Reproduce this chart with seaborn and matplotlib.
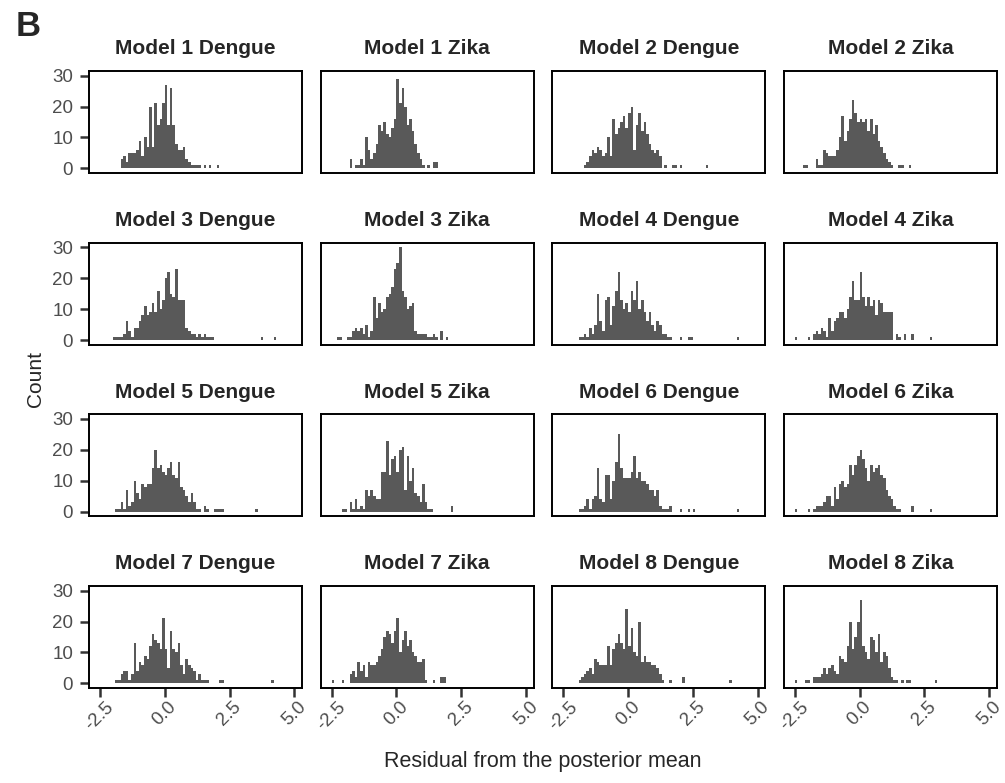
import numpy as np
import pandas as pd
import matplotlib
matplotlib.use("Agg")
import matplotlib.pyplot as plt
import seaborn as sns

# histogram bin width (residual units) and the left edge of each panel's first bin
BIN = 0.1

titles = [
    "Model 1 Dengue", "Model 1 Zika", "Model 2 Dengue", "Model 2 Zika",
    "Model 3 Dengue", "Model 3 Zika", "Model 4 Dengue", "Model 4 Zika",
    "Model 5 Dengue", "Model 5 Zika", "Model 6 Dengue", "Model 6 Zika",
    "Model 7 Dengue", "Model 7 Zika", "Model 8 Dengue", "Model 8 Zika",
]
starts = [-1.7, -1.8, -1.7, -2.2, -2.0, -2.3, -1.9, -2.5,
          -1.9, -2.1, -1.9, -2.5, -1.9, -2.5, -1.9, -2.5]

# bin counts, one list per panel
m1_dengue = [3, 4, 2, 5, 5, 5, 6, 9, 4, 10, 7, 20, 7, 21, 14, 16, 21, 27, 14, 26,
             14, 8, 6, 6, 7, 3, 2, 1, 1, 1, 1, 0, 1, 0, 1, 0, 0, 1]
m1_zika = [3, 0, 1, 1, 3, 1, 10, 6, 3, 5, 8, 14, 12, 15, 11, 10, 13, 16, 29, 21,
           26, 20, 14, 16, 12, 8, 5, 3, 1, 0, 1, 0, 2, 2]
m2_dengue = [1, 2, 4, 6, 5, 7, 6, 4, 5, 10, 4, 16, 11, 13, 15, 17, 13, 18, 20, 6,
             14, 18, 12, 15, 11, 8, 6, 5, 6, 4, 0, 1, 0, 0, 1, 1, 0, 1, 0, 0,
             0, 0, 0, 0, 0, 0, 0, 1]
m2_zika = [1, 1, 0, 0, 0, 3, 1, 1, 6, 5, 4, 4, 4, 6, 10, 17, 9, 12, 16, 22,
           18, 15, 16, 15, 16, 12, 16, 11, 14, 9, 7, 5, 3, 2, 1, 0, 0, 1, 1, 0,
           0, 1]
m3_dengue = [1, 1, 1, 1, 2, 6, 3, 1, 4, 4, 6, 8, 11, 8, 9, 12, 9, 16, 10, 13,
             20, 22, 15, 14, 23, 13, 13, 13, 4, 3, 2, 2, 1, 2, 1, 2, 1, 1, 1, 0,
             0, 0, 0, 0, 0, 0, 0, 0, 0, 0, 0, 0, 0, 0, 0, 0, 0, 1, 0, 0,
             0, 0, 1]
m3_zika = [1, 1, 0, 0, 1, 1, 3, 4, 3, 4, 2, 5, 1, 3, 14, 7, 12, 9, 10, 14,
           15, 17, 23, 25, 30, 16, 14, 10, 11, 12, 3, 2, 2, 2, 2, 1, 1, 2, 1, 0,
           3, 0, 1]
m4_dengue = [1, 1, 2, 1, 4, 2, 5, 15, 6, 3, 13, 14, 5, 11, 16, 22, 13, 10, 12, 9,
             16, 13, 19, 10, 13, 9, 6, 9, 5, 3, 6, 5, 2, 2, 1, 1, 0, 0, 0, 1,
             0, 0, 1, 1, 0, 0, 0, 0, 0, 0, 0, 0, 0, 0, 0, 0, 0, 0, 0, 0,
             0, 1]
m4_zika = [1, 0, 0, 0, 0, 1, 0, 2, 3, 2, 4, 3, 1, 7, 3, 6, 7, 9, 9, 7,
           10, 14, 19, 13, 13, 22, 14, 11, 14, 11, 13, 8, 13, 12, 9, 9, 9, 9, 0, 2,
           1, 0, 2, 0, 0, 2, 0, 0, 0, 0, 0, 0, 1]
m5_dengue = [1, 1, 3, 1, 7, 2, 3, 10, 6, 4, 9, 8, 9, 9, 14, 20, 14, 15, 13, 12,
             14, 16, 12, 11, 16, 8, 7, 5, 3, 6, 3, 1, 1, 0, 2, 1, 0, 0, 1, 1,
             1, 1, 0, 0, 0, 0, 0, 0, 0, 0, 0, 0, 0, 0, 1]
m5_zika = [1, 1, 0, 3, 1, 4, 1, 2, 1, 7, 5, 7, 5, 4, 4, 13, 13, 23, 12, 17,
           18, 13, 20, 21, 7, 18, 10, 14, 6, 5, 3, 9, 3, 1, 1, 0, 0, 0, 0, 0,
           0, 0, 2]
m6_dengue = [1, 1, 2, 4, 1, 4, 5, 14, 4, 3, 12, 12, 4, 10, 16, 25, 14, 11, 11, 11,
             13, 18, 11, 13, 10, 10, 9, 7, 7, 5, 7, 2, 1, 1, 1, 2, 0, 0, 0, 1,
             0, 0, 1, 0, 1, 0, 0, 0, 0, 0, 0, 0, 0, 0, 0, 0, 0, 0, 0, 0,
             0, 1]
m6_zika = [1, 0, 0, 0, 0, 1, 0, 1, 2, 2, 2, 3, 5, 5, 2, 8, 4, 9, 10, 8,
           9, 15, 12, 15, 18, 20, 17, 14, 10, 15, 13, 14, 15, 12, 11, 7, 5, 4, 2, 1,
           1, 0, 0, 0, 0, 2, 0, 0, 0, 0, 0, 0, 1]
m7_dengue = [1, 1, 3, 4, 4, 1, 3, 13, 4, 7, 6, 9, 8, 12, 16, 14, 13, 11, 21, 11,
             5, 17, 11, 10, 13, 6, 3, 8, 6, 5, 4, 1, 3, 1, 1, 1, 0, 0, 0, 0,
             1, 1, 0, 0, 0, 0, 0, 0, 0, 0, 0, 0, 0, 0, 0, 0, 0, 0, 0, 0,
             1]
m7_zika = [1, 0, 0, 0, 1, 0, 0, 3, 4, 2, 7, 4, 6, 2, 7, 6, 6, 7, 9, 11,
           15, 17, 16, 13, 17, 21, 10, 14, 17, 12, 14, 10, 9, 7, 7, 8, 1, 0, 0, 1,
           0, 0, 2, 2]
m8_dengue = [1, 2, 3, 4, 5, 3, 8, 7, 6, 6, 6, 12, 6, 11, 13, 16, 13, 11, 24, 12,
             18, 10, 9, 20, 7, 9, 7, 7, 6, 6, 5, 3, 1, 0, 0, 1, 0, 0, 0, 0,
             2, 0, 0, 0, 0, 0, 0, 0, 0, 0, 0, 0, 0, 0, 0, 0, 0, 0, 1]
m8_zika = [1, 0, 0, 0, 1, 1, 0, 2, 2, 2, 3, 5, 3, 5, 6, 4, 3, 9, 8, 7,
           12, 20, 11, 15, 20, 27, 12, 10, 8, 15, 14, 10, 16, 7, 10, 9, 5, 2, 1, 1,
           0, 1, 0, 1, 1, 0, 0, 0, 0, 0, 0, 0, 0, 0, 1]

counts = [m1_dengue, m1_zika, m2_dengue, m2_zika,
          m3_dengue, m3_zika, m4_dengue, m4_zika,
          m5_dengue, m5_zika, m6_dengue, m6_zika,
          m7_dengue, m7_zika, m8_dengue, m8_zika]

xticks = [-2.5, 0.0, 2.5, 5.0]
xtick_labels = ["-2.5", "0.0", "2.5", "5.0"]
yticks = [0, 10, 20, 30]

sns.set_style("ticks")
plt.rcParams["font.family"] = ["Liberation Sans", "DejaVu Sans"]
plt.rcParams["axes.edgecolor"] = "black"
plt.rcParams["axes.linewidth"] = 1.4

fig, axes = plt.subplots(4, 4, figsize=(10.05, 7.83), dpi=100, sharex=True, sharey=True)
fig.subplots_adjust(left=89 / 1005, right=997 / 1005, top=1 - 71 / 783,
                    bottom=1 - 688 / 783, wspace=0.087, hspace=0.683)

for i, ax in enumerate(axes.flat):
    c = np.array(counts[i], dtype=float)
    edges = np.round(starts[i] + BIN * np.arange(len(c) + 1), 2)
    df = pd.DataFrame({"resid": edges[:-1] + BIN / 2, "n": c})
    # bins as a plain list: seaborn compares bins to "auto" when weights are used
    sns.histplot(data=df, x="resid", weights="n", bins=edges.tolist(), element="step",
                 fill=True, color="#595959", alpha=1, linewidth=0, ax=ax)
    ax.set(xlabel="", ylabel="")
    ax.set_title(titles[i], fontsize=15, fontweight="bold", pad=12)
    ax.set_xlim(-2.92, 5.3)
    ax.set_ylim(-1.5, 31.5)
    ax.set_xticks(xticks, xtick_labels)
    ax.set_yticks(yticks)
    ax.tick_params(axis="both", length=6.5, width=1.8, color="#333333",
                   labelcolor="#4D4D4D", labelsize=13.5)
    ax.tick_params(axis="y", pad=5)
    ax.tick_params(axis="x", pad=1)
    row, col = divmod(i, 4)
    if col != 0:
        ax.tick_params(axis="y", left=False, labelleft=False)
    if row != 3:
        ax.tick_params(axis="x", bottom=False, labelbottom=False)
    else:
        plt.setp(ax.get_xticklabels(), rotation=45, ha="center")

fig.text(35 / 1005, 0.516, "Count", rotation=90, ha="center", va="center", fontsize=15)
fig.text(0.54, 1 - 761 / 783, "Residual from the posterior mean",
         ha="center", va="center", fontsize=15.5)
fig.text(16 / 1005, 1 - 10 / 783, "B", ha="left", va="top", fontsize=25, fontweight="bold")

plt.savefig("out.png", dpi=100)
